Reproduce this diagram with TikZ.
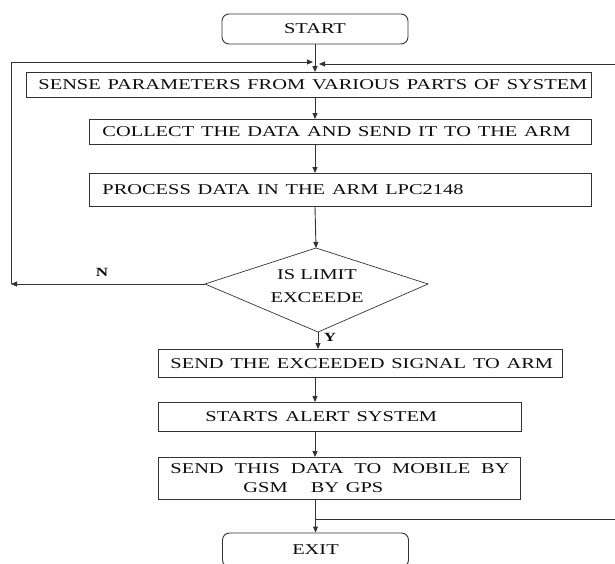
\documentclass[tikz,border=0pt]{standalone}
\usepackage{fontspec}
\setmainfont{Liberation Serif}
\usepackage{graphicx}
\usetikzlibrary{arrows.meta}
\definecolor{linec}{gray}{0.2}
\definecolor{txtc}{gray}{0.05}
\newcommand\wide[1]{\scalebox{1.36}[1]{#1}}
\tikzset{
  box/.style={draw=linec, line width=0.9pt, rectangle, anchor=north west, inner xsep=12pt, inner ysep=0pt, align=left, text=txtc, font=\fontsize{15}{19}\selectfont},
  term/.style={draw=linec, rounded corners=7pt, line width=0.9pt, minimum width=186pt, inner sep=0pt, text=txtc, font=\fontsize{15}{19}\selectfont},
  arr/.style={draw=linec, line width=0.9pt, -{Triangle[length=6pt,width=5pt]}},
  ln/.style={draw=linec, line width=0.9pt},
  lbl/.style={text=txtc, inner sep=0pt, font=\fontsize{12.5}{14}\selectfont\bfseries}
}
\begin{document}
\begin{tikzpicture}[x=1pt,y=-1pt]
\useasboundingbox (0,0) rectangle (615,563);
\clip (0,0) rectangle (615,563);

\node[term, minimum height=30pt] (start) at (315,29) {\wide{START}};
\node[box, minimum width=565pt, minimum height=25pt, text width=541pt] (sense) at (26,72) {\wide{SENSE PARAMETERS FROM VARIOUS PARTS OF SYSTEM}};
\node[box, minimum width=502pt, minimum height=25pt, text width=476pt, inner xsep=13pt] (collect) at (89,119) {\wide{COLLECT THE DATA AND SEND IT TO THE ARM}};
\node[box, minimum width=502pt, minimum height=33pt, text width=476pt, inner xsep=13pt] (process) at (89,173) {\wide{PROCESS DATA IN THE ARM LPC2148}};

\coordinate (dt) at (316,248);
\coordinate (dl) at (205,284);
\coordinate (dr) at (428,284);
\coordinate (db) at (318,332);
\draw[ln, line width=0.7pt] (dt) -- (dr) -- (db) -- (dl) -- cycle;
\node[align=center, inner sep=0pt, text=txtc, font=\fontsize{15}{22.5}\selectfont] (dtext) at (317,286) {\wide{IS LIMIT}\\\wide{EXCEEDE}};

\node[box, minimum width=404pt, minimum height=28pt, text width=380pt] (exceed) at (158,349) {\wide{SEND THE EXCEEDED SIGNAL TO ARM}};
\node[box, minimum width=363pt, minimum height=29pt, text width=339pt] (alert) at (158,402) {\hspace*{35pt}\wide{STARTS ALERT SYSTEM}};
\node[box, minimum width=362pt, minimum height=42pt, text width=338pt] (data) at (158,457) {\wide{SEND\hspace{8pt}THIS\hspace{8pt}DATA\hspace{8pt}TO\hspace{8pt}MOBILE\hspace{8pt}BY}\\\hspace*{73pt}\wide{GSM\hspace{17pt}BY GPS}};
\node[term, minimum height=34pt] (exit) at (315.5,550) {\wide{EXIT}};

\node[lbl] (nlab) at (102,272) {\wide{N}};
\node[lbl] (ylab) at (330,337) {\wide{Y}};

\coordinate (lc) at (11,284);
\coordinate (lt) at (11,62);
\coordinate (jl) at (313,62);
\coordinate (jr) at (319,64);
\coordinate (rt) at (615,64);
\coordinate (rb) at (615,519);
\coordinate (rj) at (315,519);

\draw[arr] (start.south) -- (start.south |- sense.north);
\draw[arr] (start.south |- sense.south) -- (start.south |- collect.north);
\draw[arr] (start.south |- collect.south) -- (start.south |- process.north);
\draw[arr] (start.south |- process.south) -- (dt);
\draw[arr] (db) -- (db |- exceed.north);
\draw[arr] (start.south |- exceed.south) -- (start.south |- alert.north);
\draw[arr] (start.south |- alert.south) -- (start.south |- data.north);
\draw[arr] (exit.north |- data.south) -- (exit.north);

\draw[arr] (dl) -- (lc);
\draw[arr] (lc) -- (lt) -- (jl);
\draw[ln] (rj) -- (rb);
\draw[arr] (rt) -- (jr);
\end{tikzpicture}
\end{document}
